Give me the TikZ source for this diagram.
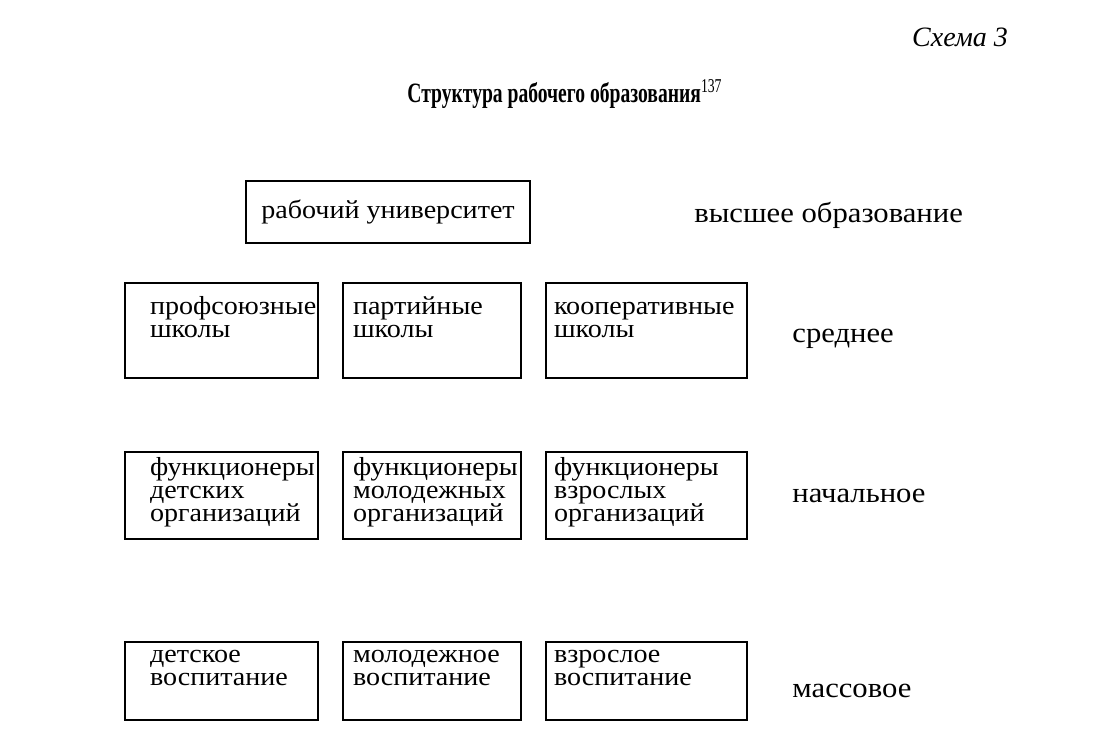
\documentclass[tikz,border=0pt]{standalone}
\usepackage{fontspec}
\setmainfont{Liberation Serif}[FakeStretch=1.08]
\newfontfamily\headfont{Liberation Serif}
\newfontfamily\titlefont{Liberation Serif}[FakeStretch=0.70]
\newcommand\tightlines{\lineskiplimit=-20pt\relax}
\usetikzlibrary{positioning}

\begin{document}
\begin{tikzpicture}[node distance=11.5pt and 11.5pt,every node/.style={font=\fontsize{13}{11.5}\selectfont\tightlines}]
\tikzstyle{cell}=[draw,line width=1pt,inner sep=0pt,align=left,anchor=north west]
\tikzstyle{colA}=[cell,minimum width=96.5pt,text width=71.5pt]
\tikzstyle{colB}=[cell,minimum width=89pt,text width=79pt]
\tikzstyle{colC}=[cell,minimum width=100.5pt,text width=92.5pt]
\tikzstyle{rowmid}=[text height=16pt,text depth=31.5pt]
\tikzstyle{rowlow}=[text height=12pt,text depth=31.5pt]
\tikzstyle{rowmass}=[text height=10.5pt,text depth=28.5pt]
\tikzstyle{level}=[inner sep=0pt,font=\fontsize{14.2}{16}\selectfont]
\fill[white] (0,0) rectangle (558pt,-371.5pt);
\useasboundingbox (0,0) rectangle (558pt,-371.5pt);
% heading
\node (scheme) at (480pt,-18.5pt) {\fontsize{14}{16}\headfont\itshape Схема 3};
\node (title) at (282.5pt,-47pt) {\fontsize{14}{16}\titlefont\bfseries Структура рабочего образования\textsuperscript{\mdseries 137}};
% middle row
\node[colA,rowmid] (prof) at (62pt,-141pt) {профсоюзные\\школы};
\node[colB,rowmid,right=of prof] (party) {партийные\\школы};
\node[colC,rowmid,right=of party] (coop) {кооперативные\\школы};
% top
\node[draw,line width=1pt,inner sep=0pt,minimum width=142pt,minimum height=31pt,above right=19pt and 60.5pt of prof.north west] (uni) {рабочий университет};
% functionaries
\node[colA,rowlow,below=36pt of prof] (funcA) {функционеры\\детских\\организаций};
\node[colB,rowlow,right=of funcA] (funcB) {функционеры\\молодежных\\организаций};
\node[colC,rowlow,right=of funcB] (funcC) {функционеры\\взрослых\\организаций};
% mass upbringing
\node[colA,rowmass,below=50.5pt of funcA] (upA) {детское\\воспитание};
\node[colB,rowmass,right=of upA] (upB) {молодежное\\воспитание};
\node[colC,rowmass,right=of upB] (upC) {взрослое\\воспитание};
% levels
\node[level,right=81.5pt of uni,yshift=-1.5pt] (high) {высшее образование};
\node[level,right=22pt of coop,yshift=-4pt] (mid) {среднее};
\node[level,right=22pt of funcC] (low) {начальное};
\node[level,right=22pt of upC,yshift=-5pt] (mass) {массовое};
\end{tikzpicture}
\end{document}
